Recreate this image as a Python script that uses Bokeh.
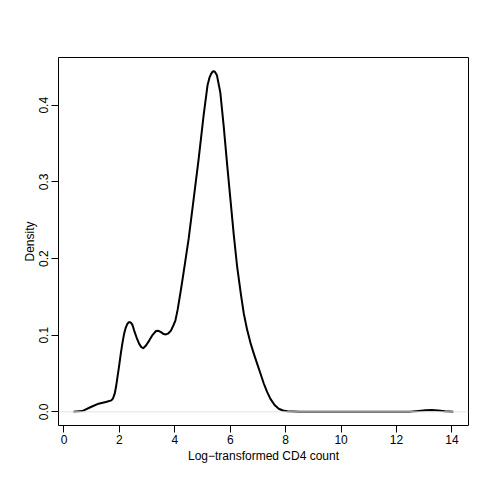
from bokeh.plotting import figure
from bokeh.models import Range1d, FixedTicker, Span
from bokeh.embed import file_html
from bokeh.resources import INLINE

# Density curve
cd4_log = [0.34, 0.66, 0.97, 1.21, 1.51, 1.71, 1.77, 1.83, 1.88, 1.93, 1.99, 2.05, 2.11,
           2.17, 2.23, 2.29, 2.34, 2.38, 2.42, 2.47, 2.53, 2.62, 2.71, 2.79, 2.86, 2.96,
           3.08, 3.20, 3.32, 3.41, 3.50, 3.60, 3.68, 3.77, 3.86, 3.95, 4.02, 4.10, 4.21,
           4.32, 4.50, 4.68, 4.86, 5.04, 5.18, 5.25, 5.31, 5.36, 5.40, 5.45, 5.52, 5.64,
           5.76, 5.89, 6.01, 6.13, 6.25, 6.39, 6.49, 6.61, 6.73, 6.85, 6.97, 7.09, 7.21,
           7.33, 7.45, 7.60, 7.75, 7.90, 8.06, 8.5, 9.0, 10.0, 11.0, 12.0, 12.5, 12.8,
           13.05, 13.27, 13.5, 13.75, 14.05]
density = [0.0003, 0.001, 0.0063, 0.0102, 0.0128, 0.015, 0.0175, 0.0237, 0.033, 0.0454,
           0.060, 0.076, 0.090, 0.102, 0.110, 0.115, 0.1168, 0.117, 0.1162, 0.1135,
           0.1064, 0.097, 0.089, 0.0845, 0.083, 0.0865, 0.0933, 0.1005, 0.1055, 0.1058,
           0.104, 0.1015, 0.101, 0.1025, 0.106, 0.113, 0.119, 0.133, 0.157, 0.1825,
           0.226, 0.278, 0.330, 0.387, 0.426, 0.436, 0.441, 0.4437, 0.4444, 0.4435,
           0.439, 0.417, 0.374, 0.322, 0.276, 0.230, 0.189, 0.152, 0.128, 0.107, 0.090,
           0.076, 0.063, 0.050, 0.037, 0.026, 0.017, 0.009, 0.004, 0.0018, 0.0007,
           0.0001, 0.0, 0.0, 0.0, 0.0, 0.0003, 0.0012, 0.002, 0.0023, 0.0018, 0.0008,
           0.0002]

x_ticks = [0, 2, 4, 6, 8, 10, 12, 14]
y_ticks = [0.0, 0.1, 0.2, 0.3, 0.4]
y_tick_labels = ["0.0", "0.1", "0.2", "0.3", "0.4"]
x_title = "Log\u2212transformed CD4 count"
y_title = "Density"

FONT = "Liberation Sans"

p = figure(width=490, height=490, output_backend="svg", toolbar_location=None,
           x_range=Range1d(-0.198, 14.598), y_range=Range1d(-0.0178, 0.4623),
           min_border_left=58, min_border_right=22, min_border_top=57,
           min_border_bottom=65)

p.grid.visible = False
p.outline_line_color = "black"
p.outline_line_width = 1
p.background_fill_color = "white"
p.border_fill_color = "white"

p.add_layout(Span(location=0, dimension="width", line_color="#e2e2e2", line_width=1))

p.line(cd4_log, density, line_color="black", line_width=2, line_join="round")

for ax in (p.xaxis[0], p.yaxis[0]):
    ax.axis_line_color = None
    ax.major_tick_out = 7
    ax.major_tick_in = 0
    ax.major_tick_line_color = "black"
    ax.minor_tick_line_color = None
    ax.major_label_text_font = FONT
    ax.major_label_text_font_size = "12px"
    ax.major_label_text_color = "black"
    ax.axis_label_text_font = FONT
    ax.axis_label_text_font_size = "12px"
    ax.axis_label_text_font_style = "normal"
    ax.axis_label_text_color = "black"

p.xaxis.ticker = FixedTicker(ticks=x_ticks)
p.xaxis.axis_label = x_title
p.xaxis.major_label_standoff = 2
p.xaxis.axis_label_standoff = 2

p.yaxis.ticker = FixedTicker(ticks=y_ticks)
p.yaxis.major_label_overrides = {t: s for t, s in zip(y_ticks, y_tick_labels)}
p.yaxis.major_label_orientation = "vertical"
p.yaxis.axis_label = y_title
p.yaxis.major_label_standoff = 3
p.yaxis.axis_label_standoff = 0

open("out.html", "w").write(file_html(p, INLINE))
